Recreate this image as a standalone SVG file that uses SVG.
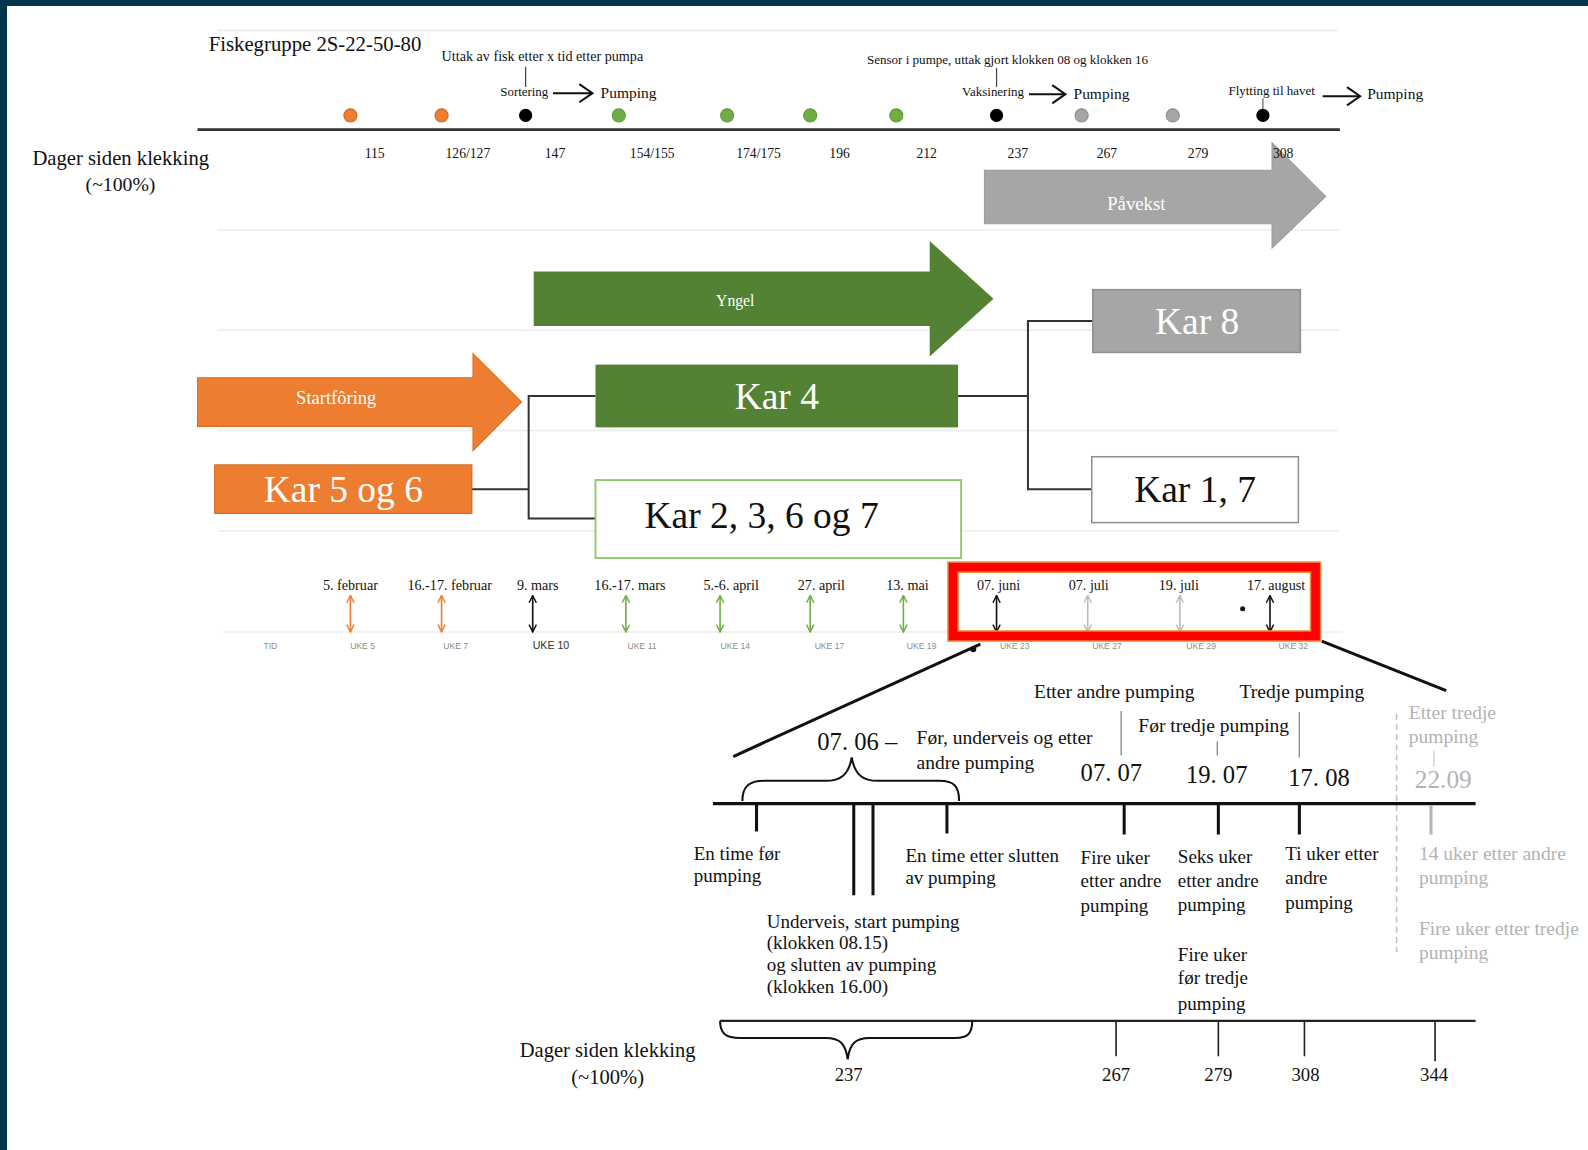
<svg xmlns="http://www.w3.org/2000/svg" width="1588" height="1150" viewBox="0 0 1588 1150">
<defs>
<style>
.s{font-family:"Liberation Serif","Times New Roman",serif;fill:#111}
.m{text-anchor:middle}
.uke{font-family:"Liberation Sans",Arial,sans-serif;font-size:8.5px;fill:#8c8c8c;text-anchor:middle}
.grid{stroke:#ececec;stroke-width:1.5;fill:none}
.conn{stroke:#333;stroke-width:2;fill:none}
.blk{stroke:#111;fill:none}
.tk{stroke:#111;stroke-width:3}
.tk2{stroke:#222;stroke-width:1.6}
.kar{font-family:"Liberation Serif","Times New Roman",serif;font-size:37px;text-anchor:middle}
</style>
<marker id="ah-or" viewBox="0 0 10 10" refX="9" refY="5" markerWidth="9" markerHeight="9" markerUnits="userSpaceOnUse" orient="auto-start-reverse"><path d="M1,1 L9,5 L1,9" fill="none" stroke="#ED7D31" stroke-width="1.6"/></marker>
<marker id="ah-gr" viewBox="0 0 10 10" refX="9" refY="5" markerWidth="9" markerHeight="9" markerUnits="userSpaceOnUse" orient="auto-start-reverse"><path d="M1,1 L9,5 L1,9" fill="none" stroke="#70AD47" stroke-width="1.6"/></marker>
<marker id="ah-bk" viewBox="0 0 10 10" refX="9" refY="5" markerWidth="9" markerHeight="9" markerUnits="userSpaceOnUse" orient="auto-start-reverse"><path d="M1,1 L9,5 L1,9" fill="none" stroke="#111" stroke-width="1.6"/></marker>
<marker id="ah-lg" viewBox="0 0 10 10" refX="9" refY="5" markerWidth="9" markerHeight="9" markerUnits="userSpaceOnUse" orient="auto-start-reverse"><path d="M1,1 L9,5 L1,9" fill="none" stroke="#bdbdbd" stroke-width="1.6"/></marker>
</defs>
<rect width="1588" height="1150" fill="#fff"/>
<rect x="0" y="0" width="1588" height="6" fill="#01354c"/>
<rect x="0" y="0" width="7" height="1150" fill="#01354c"/>
<g transform="scale(1.01276)">
<g id="grid">
<line class="grid" x1="215" y1="30" x2="1322" y2="30"/>
<line class="grid" x1="215" y1="227" x2="1322" y2="227"/>
<line class="grid" x1="215" y1="326" x2="1322" y2="326"/>
<line class="grid" x1="215" y1="425" x2="1322" y2="425"/>
<line class="grid" x1="215" y1="524" x2="1322" y2="524"/>
<line class="grid" x1="220" y1="624" x2="1325" y2="624"/>
</g>
<g id="top-timeline">
<text class="s" x="206" y="50" font-size="20.5">Fiskegruppe 2S-22-50-80</text>
<text class="s" x="436" y="60" font-size="14">Uttak av fisk etter x tid etter pumpa</text>
<line x1="519" y1="66" x2="519" y2="86" stroke="#444" stroke-width="1.2"/>
<text class="s" x="494" y="95" font-size="12.7">Sortering</text>
<line class="blk" x1="546" y1="92" x2="584" y2="92" stroke-width="2"/>
<polyline class="blk" points="572,83 585,92 572,101" stroke-width="2"/>
<text class="s" x="593" y="97" font-size="15.3">Pumping</text>
<text class="s" x="856" y="63" font-size="12.9">Sensor i pumpe, uttak gjort klokken 08 og klokken 16</text>
<line x1="984" y1="67" x2="984" y2="86" stroke="#444" stroke-width="1.2"/>
<text class="s" x="950" y="95" font-size="12.8">Vaksinering</text>
<line class="blk" x1="1016" y1="93" x2="1051" y2="93" stroke-width="2"/>
<polyline class="blk" points="1039,84 1052,93 1039,102" stroke-width="2"/>
<text class="s" x="1060" y="98" font-size="15.3">Pumping</text>
<text class="s" x="1213" y="94" font-size="12.8">Flytting til havet</text>
<line x1="1247" y1="97" x2="1247" y2="108" stroke="#666" stroke-width="1.2"/>
<line class="blk" x1="1306" y1="95" x2="1342" y2="95" stroke-width="2"/>
<polyline class="blk" points="1330,86 1343,95 1330,104" stroke-width="2"/>
<text class="s" x="1350" y="98" font-size="15.3">Pumping</text>
<circle cx="346" cy="114" r="6.5" fill="#ED7D31" stroke="#d0651c"/>
<circle cx="436" cy="114" r="6.5" fill="#ED7D31" stroke="#d0651c"/>
<circle cx="519" cy="114" r="6.5" fill="#000"/>
<circle cx="611" cy="114" r="6.5" fill="#70AD47" stroke="#5b9a36"/>
<circle cx="718" cy="114" r="6.5" fill="#70AD47" stroke="#5b9a36"/>
<circle cx="800" cy="114" r="6.5" fill="#70AD47" stroke="#5b9a36"/>
<circle cx="885" cy="114" r="6.5" fill="#70AD47" stroke="#5b9a36"/>
<circle cx="984" cy="114" r="6.5" fill="#000"/>
<circle cx="1068" cy="114" r="6.5" fill="#A6A6A6" stroke="#8c8c8c"/>
<circle cx="1158" cy="114" r="6.5" fill="#A6A6A6" stroke="#8c8c8c"/>
<circle cx="1247" cy="114" r="6.5" fill="#000"/>
<line x1="195" y1="128" x2="1323" y2="128" stroke="#333" stroke-width="2.5"/>
<g class="s m" font-size="13.5">
<text x="370" y="156">115</text>
<text x="462" y="156">126/127</text>
<text x="548" y="156">147</text>
<text x="644" y="156">154/155</text>
<text x="749" y="156">174/175</text>
<text x="829" y="156">196</text>
<text x="915" y="156">212</text>
<text x="1005" y="156">237</text>
<text x="1093" y="156">267</text>
<text x="1183" y="156">279</text>
</g>
<text class="s" x="32" y="163" font-size="20.4">Dager siden klekking</text>
<text class="s m" x="119" y="189" font-size="19.5">(~100%)</text>
</g>
<g id="pavekst">
<polygon points="972,168 1256,168 1256,141 1309,194 1256,245 1256,221 972,221" fill="#A6A6A6" stroke="#9a9a9a"/>
<text class="s m" x="1122" y="207" font-size="18.5" style="fill:#fff">Påvekst</text>
</g>
<text class="s m" x="1267" y="156" font-size="13.5">308</text>
<g id="yngel">
<polygon points="527,268 918,268 918,238 981,295 918,352 918,322 527,322" fill="#548235"/>
<text class="s m" x="726" y="302" font-size="15.5" style="fill:#fff">Yngel</text>
</g>
<g id="startforing">
<polygon points="195,373 467,373 467,349 515,397 467,445 467,421 195,421" fill="#ED7D31" stroke="#dc6e24"/>
<text class="s m" x="332" y="399" font-size="18.3" style="fill:#fff">Startfôring</text>
</g>
<g id="connectors">
<polyline class="conn" points="466,483 522,483"/>
<polyline class="conn" points="588,391 522,391 522,512 588,512"/>
<polyline class="conn" points="946,391 1015,391"/>
<polyline class="conn" points="1079,317 1015,317 1015,483 1078,483"/>
<line x1="968" y1="636" x2="724" y2="747" stroke="#111" stroke-width="3"/>
<circle cx="961" cy="641" r="3" fill="#111"/>
<line x1="1305" y1="633" x2="1428" y2="682" stroke="#111" stroke-width="3"/>
</g>
<g id="kar56">
<rect x="212" y="459" width="254" height="48" fill="#ED7D31" stroke="#d0651c"/>
<text class="kar" x="339" y="496" style="fill:#fff">Kar 5 og 6</text>
</g>
<g id="kar4">
<rect x="588" y="360" width="358" height="62" fill="#548235"/>
<text class="kar" x="767" y="404" style="fill:#fff">Kar 4</text>
</g>
<g id="kar2367">
<rect x="588" y="474" width="361" height="77" fill="#fff" stroke="#8cc86a" stroke-width="1.8"/>
<text class="kar" x="752" y="521" style="fill:#111">Kar 2, 3, 6 og 7</text>
</g>
<g id="kar8">
<rect x="1079" y="286" width="205" height="62" fill="#A6A6A6" stroke="#8f8f8f" stroke-width="1.5"/>
<text class="kar" x="1182" y="330" style="fill:#fff">Kar 8</text>
</g>
<g id="kar17">
<rect x="1078" y="451" width="204" height="65" fill="#fff" stroke="#8f8f8f" stroke-width="1.5"/>
<text class="kar" x="1180" y="496" style="fill:#111">Kar 1, 7</text>
</g>
<g id="date-timeline">
<g class="s m" font-size="14">
<text x="346" y="583">5. februar</text>
<text x="444" y="583">16.-17. februar</text>
<text x="531" y="583">9. mars</text>
<text x="622" y="583">16.-17. mars</text>
<text x="722" y="583">5.-6. april</text>
<text x="811" y="583">27. april</text>
<text x="896" y="583">13. mai</text>
<text x="986" y="583">07. juni</text>
<text x="1075" y="583">07. juli</text>
<text x="1164" y="583">19. juli</text>
<text x="1260" y="583">17. august</text>
</g>
<g stroke-width="1.6">
<line x1="346" y1="588" x2="346" y2="624" stroke="#ED7D31" marker-start="url(#ah-or)" marker-end="url(#ah-or)"/>
<line x1="436" y1="588" x2="436" y2="624" stroke="#ED7D31" marker-start="url(#ah-or)" marker-end="url(#ah-or)"/>
<line x1="526" y1="588" x2="526" y2="624" stroke="#111" marker-start="url(#ah-bk)" marker-end="url(#ah-bk)"/>
<line x1="618" y1="588" x2="618" y2="624" stroke="#70AD47" marker-start="url(#ah-gr)" marker-end="url(#ah-gr)"/>
<line x1="711" y1="588" x2="711" y2="624" stroke="#70AD47" marker-start="url(#ah-gr)" marker-end="url(#ah-gr)"/>
<line x1="800" y1="588" x2="800" y2="624" stroke="#70AD47" marker-start="url(#ah-gr)" marker-end="url(#ah-gr)"/>
<line x1="892" y1="588" x2="892" y2="624" stroke="#70AD47" marker-start="url(#ah-gr)" marker-end="url(#ah-gr)"/>
<line x1="984" y1="588" x2="984" y2="624" stroke="#111" marker-start="url(#ah-bk)" marker-end="url(#ah-bk)"/>
<line x1="1074" y1="588" x2="1074" y2="624" stroke="#bdbdbd" marker-start="url(#ah-lg)" marker-end="url(#ah-lg)"/>
<line x1="1165" y1="588" x2="1165" y2="624" stroke="#bdbdbd" marker-start="url(#ah-lg)" marker-end="url(#ah-lg)"/>
<line x1="1254" y1="588" x2="1254" y2="624" stroke="#111" marker-start="url(#ah-bk)" marker-end="url(#ah-bk)"/>
</g>
<circle cx="1227" cy="601" r="2.5" fill="#111"/>
<text class="uke" x="267" y="641">TID</text>
<text class="uke" x="358" y="641">UKE 5</text>
<text class="uke" x="450" y="641">UKE 7</text>
<text class="uke" x="544" y="641" style="font-size:10.5px;fill:#333">UKE 10</text>
<text class="uke" x="634" y="641">UKE 11</text>
<text class="uke" x="726" y="641">UKE 14</text>
<text class="uke" x="819" y="641">UKE 17</text>
<text class="uke" x="910" y="641">UKE 19</text>
<text class="uke" x="1002" y="641">UKE 23</text>
<text class="uke" x="1093" y="641">UKE 27</text>
<text class="uke" x="1186" y="641">UKE 29</text>
<text class="uke" x="1277" y="641">UKE 32</text>
<rect x="941" y="560" width="358" height="68" fill="none" stroke="#F08A3C" stroke-width="11.5"/>
<rect x="941" y="560" width="358" height="68" fill="none" stroke="#FF0000" stroke-width="8.5"/>
</g>
<g id="detail">
<g class="s" font-size="19.3">
<text x="1021" y="689">Etter andre pumping</text>
<text x="1224" y="689">Tredje pumping</text>
<text x="1124" y="723">Før tredje pumping</text>
<text x="905" y="735">Før, underveis og etter</text>
<text x="905" y="759">andre pumping</text>
</g>
<g class="s" font-size="18.8">
<text x="685" y="849">En time før</text>
<text x="685" y="871">pumping</text>
<text x="894" y="851">En time etter slutten</text>
<text x="894" y="873">av pumping</text>
<text x="1067" y="853">Fire uker</text>
<text x="1067" y="876">etter andre</text>
<text x="1067" y="901">pumping</text>
<text x="1163" y="852">Seks uker</text>
<text x="1163" y="876">etter andre</text>
<text x="1163" y="900">pumping</text>
<text x="1269" y="849">Ti uker etter</text>
<text x="1269" y="873">andre</text>
<text x="1269" y="898">pumping</text>
<text x="757" y="916">Underveis, start pumping</text>
<text x="757" y="937">(klokken 08.15)</text>
<text x="757" y="959">og slutten av pumping</text>
<text x="757" y="980">(klokken 16.00)</text>
<text x="1163" y="949">Fire uker</text>
<text x="1163" y="972">før tredje</text>
<text x="1163" y="997">pumping</text>
</g>
<g class="s" font-size="19.3" style="fill:#b3b3b3">
<text x="1391" y="710">Etter tredje</text>
<text x="1391" y="734">pumping</text>
<text x="1401" y="849">14 uker etter andre</text>
<text x="1401" y="873">pumping</text>
<text x="1401" y="923">Fire uker etter tredje</text>
<text x="1401" y="947">pumping</text>
<text x="1397" y="778" font-size="25">22.09</text>
</g>
<g class="s" font-size="24.3">
<text x="807" y="741">07. 06 –</text>
<text x="1067" y="771">07. 07</text>
<text x="1171" y="773">19. 07</text>
<text x="1272" y="776">17. 08</text>
</g>
<line x1="1107" y1="702" x2="1107" y2="746" stroke="#888" stroke-width="1.3"/>
<line x1="1202" y1="732" x2="1202" y2="746" stroke="#888" stroke-width="1.3"/>
<line x1="1283" y1="703" x2="1283" y2="748" stroke="#888" stroke-width="1.3"/>
<line x1="1416" y1="741" x2="1416" y2="757" stroke="#cfcfcf" stroke-width="1.3"/>
<line x1="1379" y1="705" x2="1379" y2="940" stroke="#c0c0c0" stroke-width="1.5" stroke-dasharray="6,4"/>
<path class="blk" stroke-width="2" d="M733,791 C733,776 740,771 755,771 L815,771 C830,771 838,765 841,748 C844,765 852,771 867,771 L927,771 C942,771 947,776 947,791"/>
<line x1="704" y1="793.5" x2="1457" y2="793.5" stroke="#111" stroke-width="3"/>
<line class="tk" x1="747" y1="793" x2="747" y2="821"/>
<line class="tk" x1="843" y1="793" x2="843" y2="884"/>
<line class="tk" x1="862" y1="793" x2="862" y2="884"/>
<line class="tk" x1="935" y1="793" x2="935" y2="823"/>
<line class="tk" x1="1110" y1="793" x2="1110" y2="824"/>
<line class="tk" x1="1203" y1="793" x2="1203" y2="824"/>
<line class="tk" x1="1283" y1="793" x2="1283" y2="824"/>
<line x1="1413" y1="795" x2="1413" y2="824" stroke="#b3b3b3" stroke-width="3"/>
<line x1="711" y1="1008" x2="1457" y2="1008" stroke="#222" stroke-width="2.2"/>
<path class="blk" stroke-width="2" d="M711,1008 C711,1020 716,1025 731,1025 L815,1025 C830,1025 835,1031 837,1046 C839,1031 844,1025 859,1025 L943,1025 C956,1025 960,1020 960,1008"/>
<line class="tk2" x1="1102" y1="1008" x2="1102" y2="1043"/>
<line class="tk2" x1="1203" y1="1008" x2="1203" y2="1043"/>
<line class="tk2" x1="1288" y1="1008" x2="1288" y2="1043"/>
<line class="tk2" x1="1417" y1="1008" x2="1417" y2="1048"/>
<g class="s m" font-size="18.5">
<text x="838" y="1067">237</text>
<text x="1102" y="1067">267</text>
<text x="1203" y="1067">279</text>
<text x="1289" y="1067">308</text>
<text x="1416" y="1067">344</text>
</g>
<g class="s m" font-size="20.3">
<text x="600" y="1044">Dager siden klekking</text>
<text x="600" y="1070">(~100%)</text>
</g>
</g>
</g>
</svg>
